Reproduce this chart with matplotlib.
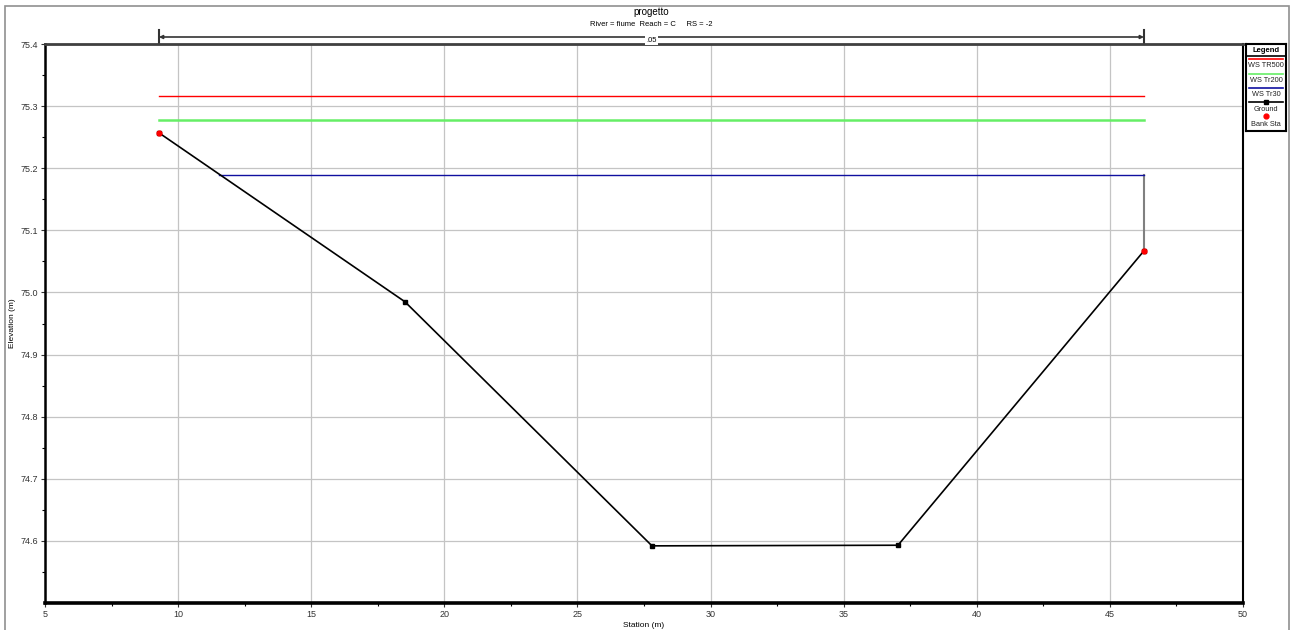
import numpy as np
import matplotlib
matplotlib.use('Agg')
from matplotlib import pyplot as plt
from matplotlib.transforms import blended_transform_factory
from matplotlib.patches import Rectangle

# ground profile
sta = [9.28, 18.52, 27.80, 37.04, 46.28]
elev = [75.257, 74.985, 74.592, 74.593, 75.067]
bank_sta = [9.28, 46.28]
bank_elev = [75.257, 75.067]

# water surfaces
ws_names = ['WS TR500', 'WS Tr200', 'WS Tr30']
ws_elev = [75.316, 75.278, 75.189]
ws_start = [9.28, 9.28, 11.54]
ws_end = [46.28, 46.28, 46.28]
ws_colors = ['#ff0000', '#66ee66', '#1010a0']

manning_n = '.05'
manning_sta = [9.28, 46.28]

plt.rcParams['font.family'] = ['Liberation Sans', 'DejaVu Sans']
fig = plt.figure(figsize=(12.94, 6.30), dpi=100)
ax = fig.add_axes([45/1294, 1-603/630, (1243-45)/1294, (603-44)/630])

for name, e, s0, s1, c in zip(ws_names, ws_elev, ws_start, ws_end, ws_colors):
    lw = 1.8 if c == '#66ee66' else 1.0
    ax.plot([s0, s1], [e, e], color=c, lw=lw, zorder=3)
# wall at right bank
ax.plot([ws_end[2], ws_end[2]], [ws_elev[2], bank_elev[1]], color='#808080', lw=1.5, zorder=2)

ax.plot(sta, elev, color='black', lw=1.2, marker='s', ms=2.2, zorder=4)
ax.plot(bank_sta, bank_elev, 'o', color='red', ms=3.5, zorder=5)

ax.set_xlim(5, 50)
ax.set_ylim(74.5, 75.4)
ax.set_xticks(np.arange(5, 51, 5))
ax.set_xticks(np.arange(7.5, 50, 5), minor=True)
ax.set_yticks(np.arange(74.6, 75.41, 0.1))
ax.set_yticks(np.arange(74.55, 75.4, 0.1), minor=True)
ax.set_yticklabels(['%.1f' % v for v in np.arange(74.6, 75.41, 0.1)])
ax.grid(True, which='major', color='#c4c4c4', lw=0.9)
ax.tick_params(labelsize=6.5, colors='#333333', length=3, width=0.8, pad=2)
ax.tick_params(which='minor', length=2.5, width=0.8)
ax.set_xlabel('Station (m)', fontsize=6, labelpad=2)
ax.set_ylabel('Elevation (m)', fontsize=6, labelpad=3)
ax.spines['top'].set_color('#404040')
ax.spines['top'].set_linewidth(2)
ax.spines['left'].set_linewidth(1.8)
ax.spines['bottom'].set_linewidth(2.6)
ax.spines['right'].set_linewidth(1.5)

# titles
fig.text(651/1294, 1-12/630, 'progetto', ha='center', va='center', fontsize=7)
fig.text(651/1294, 1-24/630, 'River = fiume  Reach = C     RS = -2', ha='center', va='center', fontsize=5.5)

# manning n dimension line
tr = blended_transform_factory(ax.transData, ax.transAxes)
yl = (603-37)/559
for s in manning_sta:
    ax.plot([s, s], [1.0, (603-30)/559], color='#333333', lw=1.5, transform=tr, clip_on=False)
ax.annotate('', xy=(manning_sta[0], yl), xytext=(manning_sta[1], yl), xycoords=tr, textcoords=tr,
            arrowprops=dict(arrowstyle='<|-|>', color='#333333', lw=1.2, mutation_scale=5, shrinkA=0, shrinkB=0))
ax.text(np.mean(manning_sta), (603-40)/559, manning_n, transform=tr, ha='center', va='center', fontsize=5.5,
        bbox=dict(facecolor='white', edgecolor='none', pad=1))

# outer border
fig.patches.append(Rectangle((5/1294, -0.01), (1289-5)/1294, 1-6/630+0.01, transform=fig.transFigure,
                             fill=False, edgecolor='#909090', lw=1.2))

# legend box
lg = fig.add_axes([1246/1294, 1-131/630, 40/1294, 87/630])
lg.set_xlim(0, 40)
lg.set_ylim(87, 0)
lg.set_xticks([])
lg.set_yticks([])
for sp in lg.spines.values():
    sp.set_linewidth(1.5)
lg.plot([0, 40], [11.7, 11.7], color='black', lw=1.2)
lg.text(20, 6, 'Legend', ha='center', va='center', fontsize=5.5, fontweight='bold')
rows = [15.3, 30, 44.3]
for y, name, c in zip(rows, ws_names, ws_colors):
    lg.plot([3, 37], [y, y], color=c, lw=1.2)
    lg.text(20, y + 6.5, name, ha='center', va='center', fontsize=5.3, color='#222222')
lg.plot([3, 37], [58, 58], color='black', lw=1.2)
lg.plot([20], [58], 's', color='black', ms=2.2)
lg.text(20, 65.7, 'Ground', ha='center', va='center', fontsize=5.3, color='#222222')
lg.plot([20], [72.3], 'o', color='red', ms=3.5)
lg.text(20, 80.3, 'Bank Sta', ha='center', va='center', fontsize=5.3, color='#222222')

plt.savefig('out.png', dpi=100)
